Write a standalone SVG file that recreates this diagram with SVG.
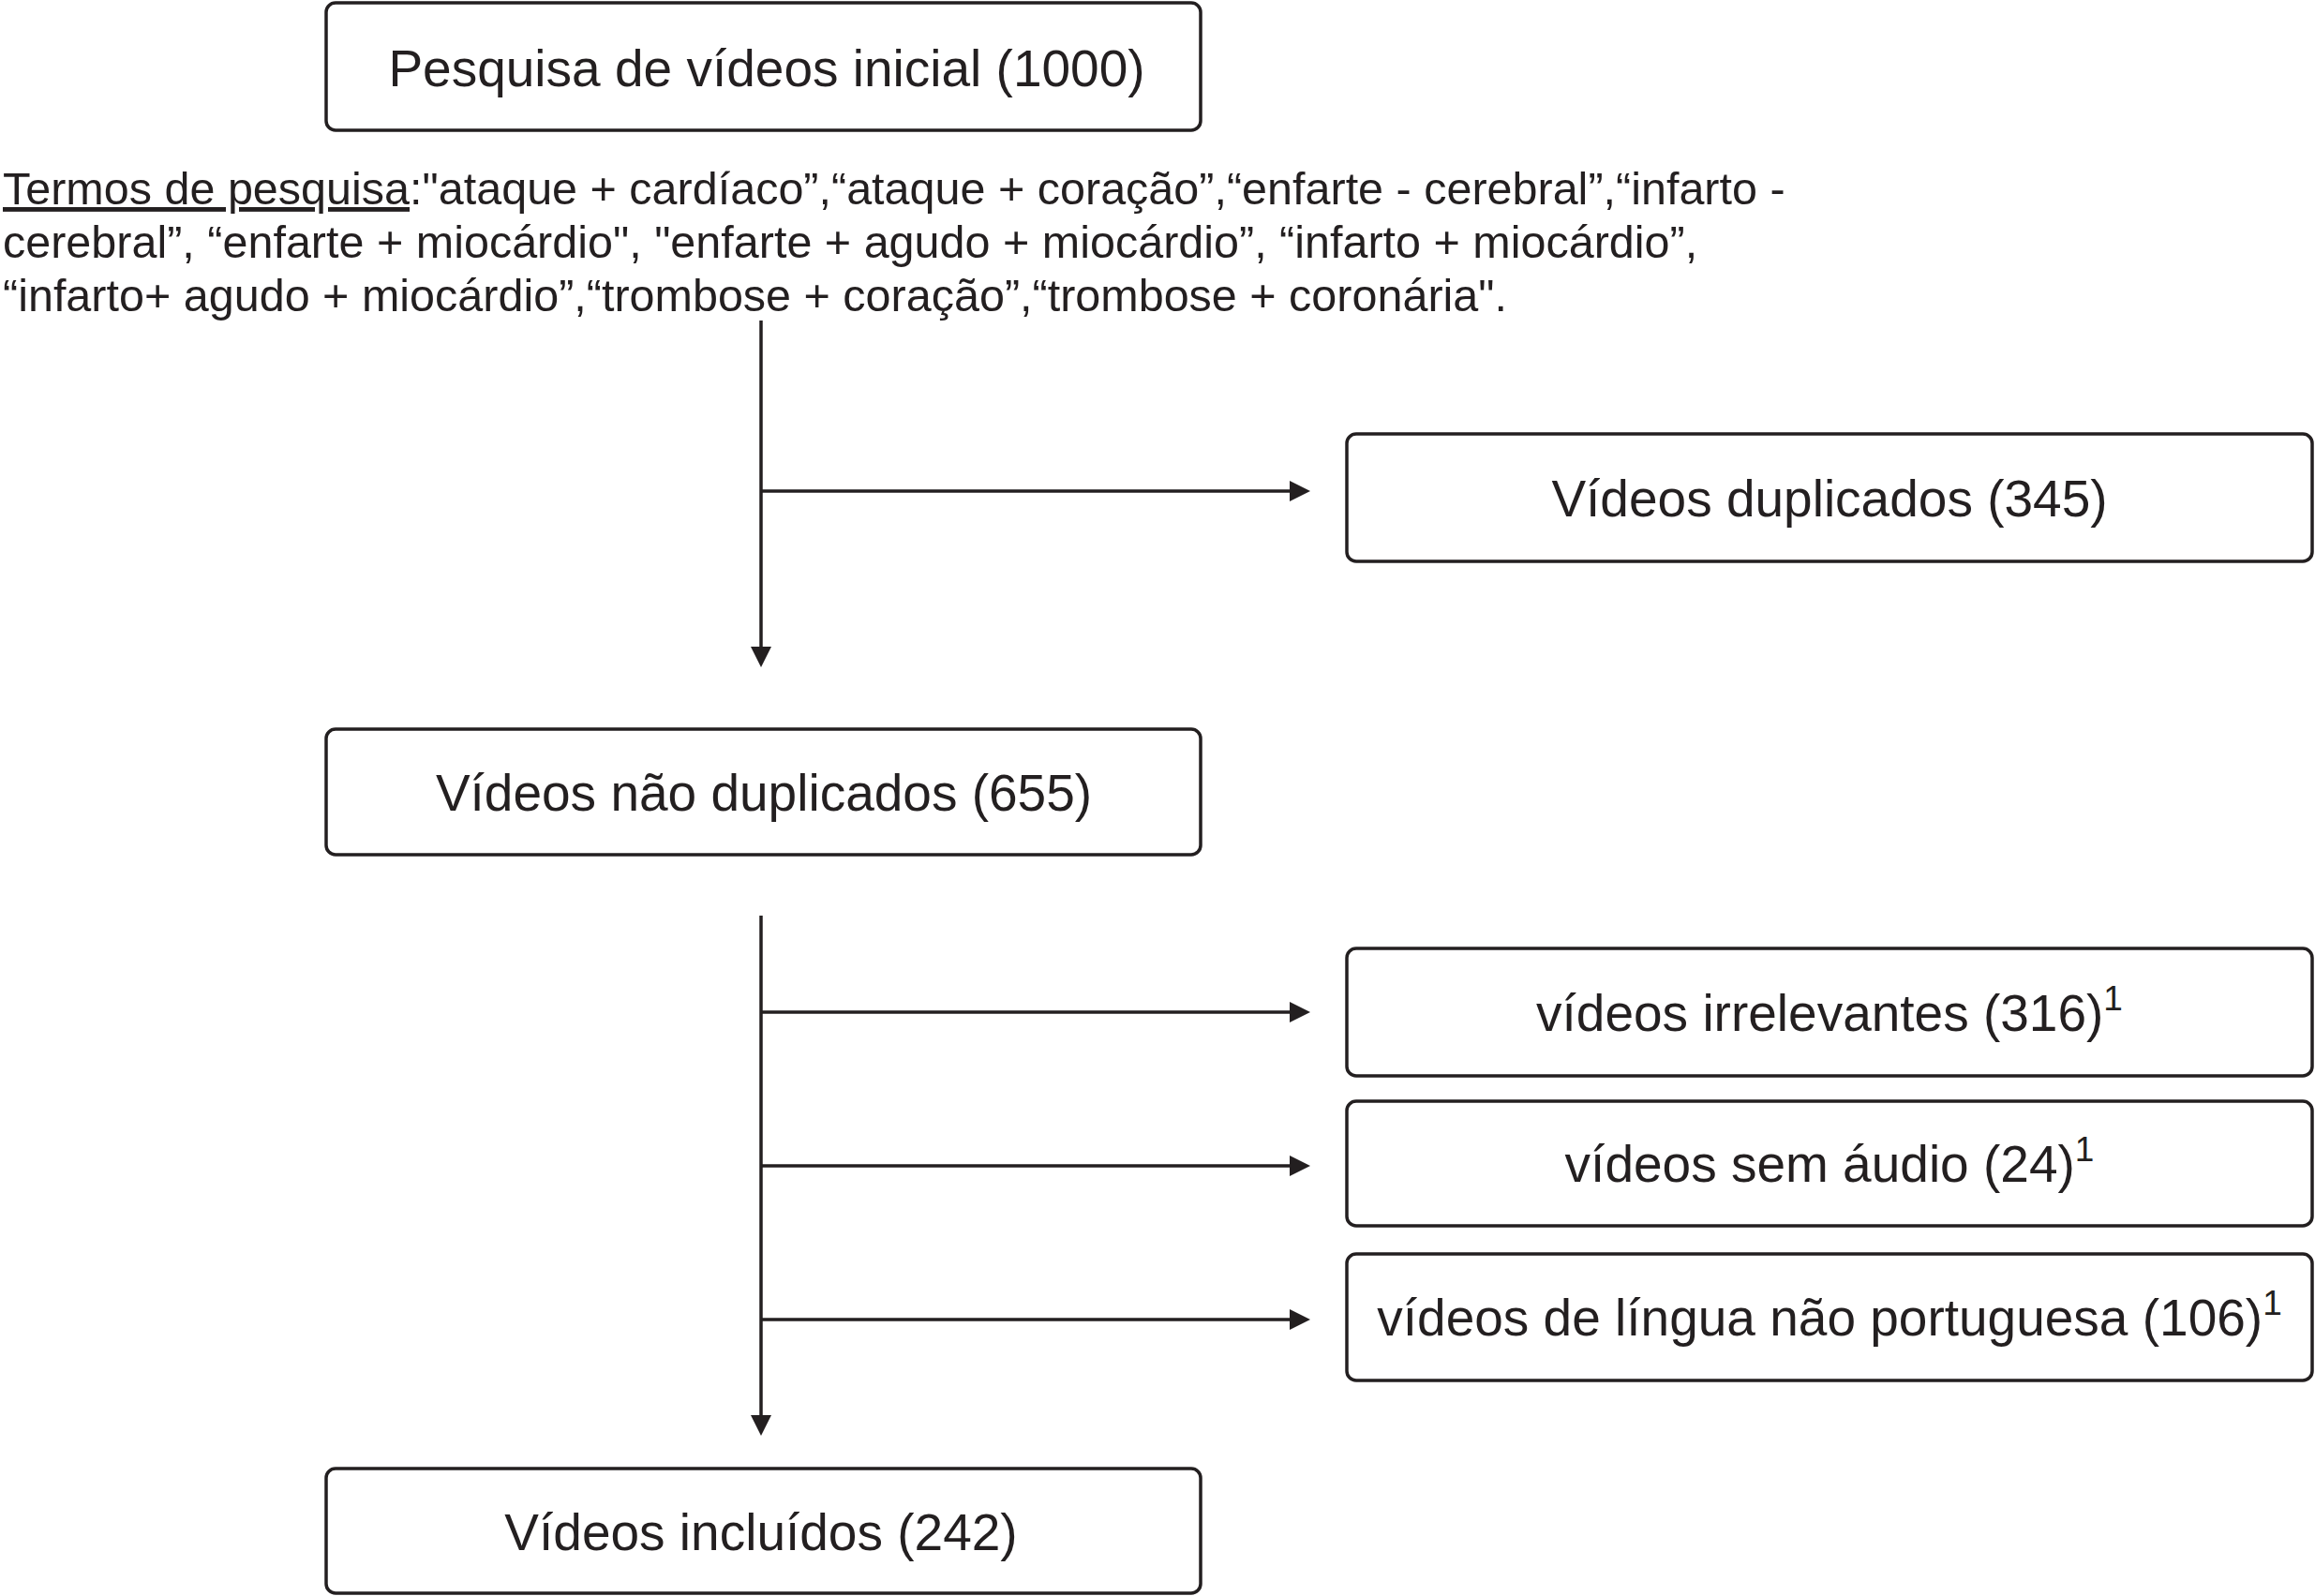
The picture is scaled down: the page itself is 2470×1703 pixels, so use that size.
<svg xmlns="http://www.w3.org/2000/svg" width="2470" height="1703" viewBox="0 0 2470 1703">
<style>
.box{fill:#fff;stroke:#231f20;stroke-width:3.5}
.lbl{font-family:"Liberation Sans",Arial,sans-serif;font-size:55px;fill:#231f20;text-anchor:middle}
.sup{font-size:37px}
.terms{font-family:"Liberation Sans",Arial,sans-serif;font-size:48.5px;fill:#231f20}
.conn{stroke:#231f20;stroke-width:3.5;fill:none}
</style>
<defs>
<marker id="ah" markerUnits="userSpaceOnUse" markerWidth="24" markerHeight="24" refX="10" refY="11" orient="auto" viewBox="0 0 24 24">
<path d="M0,0 L22,11 L0,22 Z" fill="#231f20"/>
</marker>
</defs>
<rect width="2470" height="1703" fill="#fff"/>
<g id="n-inicial">
<rect class="box" x="348" y="3" width="933" height="136" rx="10"/>
<text class="lbl" x="818" y="92">Pesquisa de vídeos inicial (1000)</text>
</g>
<g id="termos">
<text class="terms" x="3" y="218"><tspan text-decoration="underline">Termos de pesquisa</tspan>:"ataque + cardíaco”,“ataque + coração”,“enfarte - cerebral”,“infarto -</text>
<text class="terms" x="3" y="275">cerebral”, “enfarte + miocárdio", "enfarte + agudo + miocárdio”, “infarto + miocárdio”,</text>
<text class="terms" x="3" y="332">“infarto+ agudo + miocárdio”,“trombose + coração”,“trombose + coronária".</text>
</g>
<g id="n-duplicados">
<rect class="box" x="1437" y="463" width="1030" height="136" rx="10"/>
<text class="lbl" x="1952" y="551">Vídeos duplicados (345)</text>
</g>
<g id="n-nao-duplicados">
<rect class="box" x="348" y="778" width="933" height="134" rx="10"/>
<text class="lbl" x="815" y="865">Vídeos não duplicados (655)</text>
</g>
<g id="n-irrelevantes">
<rect class="box" x="1437" y="1012" width="1030" height="136" rx="10"/>
<text class="lbl" x="1952" y="1100">vídeos irrelevantes (316)<tspan class="sup" dy="-22">1</tspan></text>
</g>
<g id="n-sem-audio">
<rect class="box" x="1437" y="1175" width="1030" height="133" rx="10"/>
<text class="lbl" x="1952" y="1261">vídeos sem áudio (24)<tspan class="sup" dy="-22">1</tspan></text>
</g>
<g id="n-lingua">
<rect class="box" x="1437" y="1338" width="1030" height="135" rx="10"/>
<text class="lbl" x="1952" y="1425">vídeos de língua não portuguesa (106)<tspan class="sup" dy="-22">1</tspan></text>
</g>
<g id="n-incluidos">
<rect class="box" x="348" y="1567" width="933" height="133" rx="10"/>
<text class="lbl" x="812" y="1654">Vídeos incluídos (242)</text>
</g>
<g id="connectors">
<line class="conn" x1="812" y1="342" x2="812" y2="700" marker-end="url(#ah)"/>
<line class="conn" x1="812" y1="524" x2="1386" y2="524" marker-end="url(#ah)"/>
<line class="conn" x1="812" y1="977" x2="812" y2="1520" marker-end="url(#ah)"/>
<line class="conn" x1="812" y1="1080" x2="1386" y2="1080" marker-end="url(#ah)"/>
<line class="conn" x1="812" y1="1244" x2="1386" y2="1244" marker-end="url(#ah)"/>
<line class="conn" x1="812" y1="1408" x2="1386" y2="1408" marker-end="url(#ah)"/>
</g>
</svg>
